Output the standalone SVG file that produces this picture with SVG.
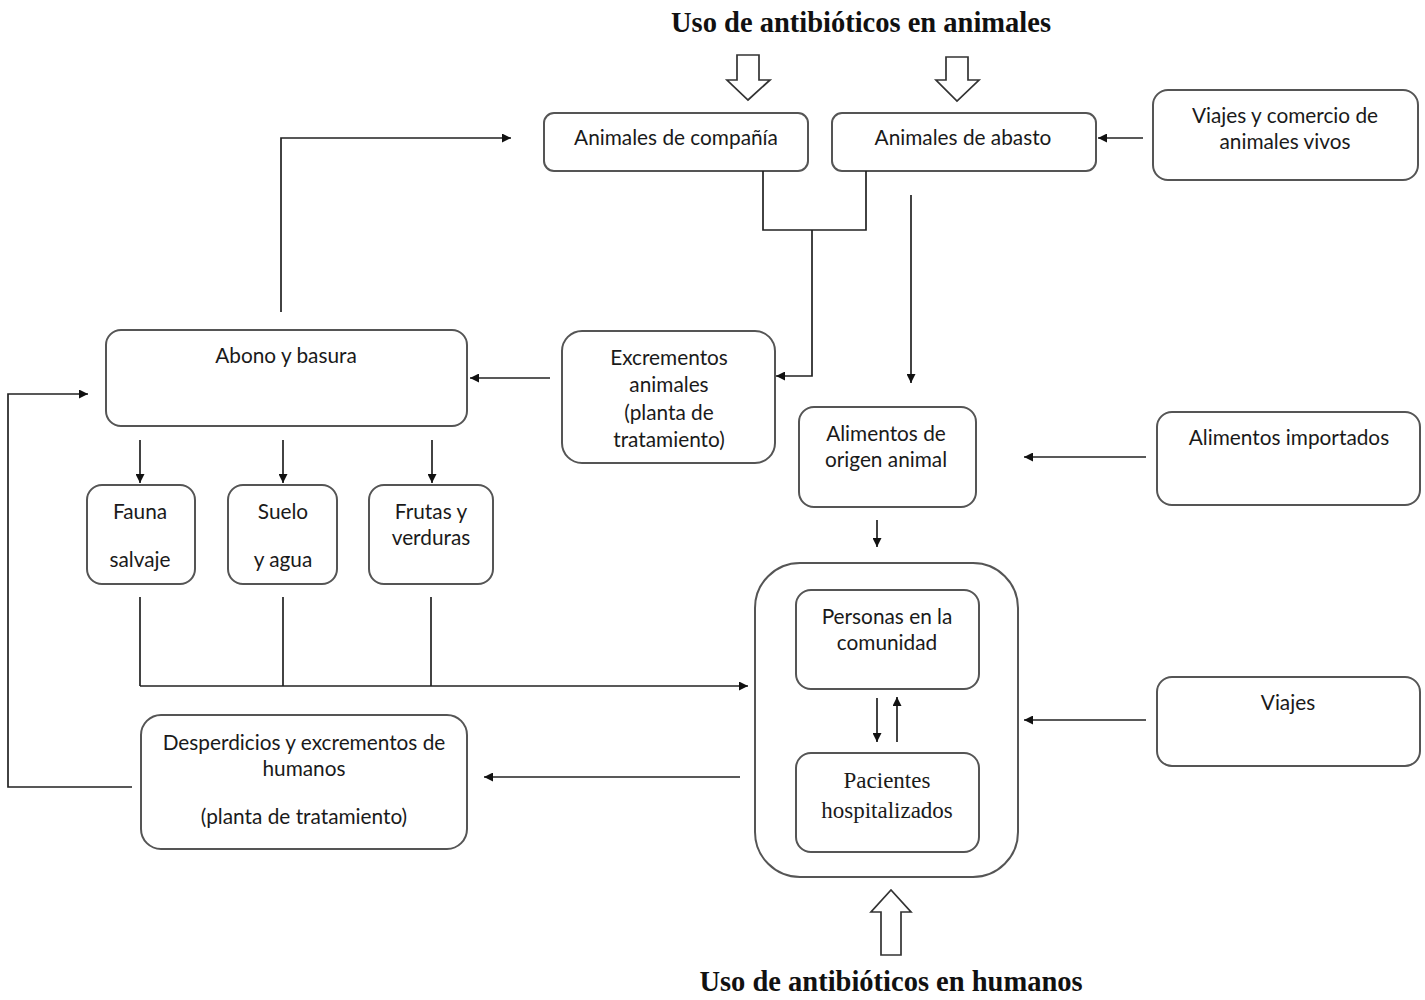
<svg xmlns="http://www.w3.org/2000/svg" width="1425" height="1000" viewBox="0 0 1425 1000">
  <style>
    .box { fill: #fff; stroke: #555; stroke-width: 2; }
    .lbl { font-family: "Lato", "Liberation Sans", sans-serif; font-size: 20.8px; fill: #1a1a1a; text-anchor: middle; }
    .ser { font-family: "Liberation Serif", serif; font-size: 23px; fill: #1a1a1a; text-anchor: middle; }
    .ttl { font-family: "Liberation Serif", serif; font-size: 28.5px; font-weight: bold; fill: #111; text-anchor: middle; }
    .ln { fill: none; stroke: #222; stroke-width: 1.7; }
    .arr { fill: none; stroke: #222; stroke-width: 1.7; marker-end: url(#ah); }
    .hollow { fill: #fff; stroke: #333; stroke-width: 1.7; }
  </style>
  <defs>
    <marker id="ah" viewBox="0 0 10 10" refX="10" refY="5" markerWidth="10" markerHeight="9" markerUnits="userSpaceOnUse" orient="auto">
      <path d="M0,0 L10,5 L0,10 z" fill="#111"/>
    </marker>
  </defs>
  <rect width="1425" height="1000" fill="#fff"/>

  <!-- titles -->
  <text class="ttl" x="861" y="32">Uso de antibióticos en animales</text>
  <text class="ttl" x="891" y="991">Uso de antibióticos en humanos</text>

  <g id="companion">
    <rect class="box" x="544" y="113" width="264" height="58" rx="10"/>
    <text class="lbl" x="676" y="145">Animales de compañía</text>
  </g>
  <g id="livestock">
    <rect class="box" x="832" y="113" width="264" height="58" rx="10"/>
    <text class="lbl" x="963" y="145">Animales de abasto</text>
  </g>
  <g id="trade">
    <rect class="box" x="1153" y="90" width="265" height="90" rx="15"/>
    <text class="lbl" x="1285" y="123">Viajes y comercio de</text>
    <text class="lbl" x="1285" y="149">animales vivos</text>
  </g>
  <g id="manure">
    <rect class="box" x="106" y="330" width="361" height="96" rx="15"/>
    <text class="lbl" x="286" y="363">Abono y basura</text>
  </g>
  <g id="animal-excreta">
    <rect class="box" x="562" y="331" width="213" height="132" rx="20"/>
    <text class="lbl" x="669" y="365">Excrementos</text>
    <text class="lbl" x="669" y="392">animales</text>
    <text class="lbl" x="669" y="420">(planta de</text>
    <text class="lbl" x="669" y="447">tratamiento)</text>
  </g>
  <g id="food-animal">
    <rect class="box" x="799" y="407" width="177" height="100" rx="15"/>
    <text class="lbl" x="886" y="441">Alimentos de</text>
    <text class="lbl" x="886" y="467">origen animal</text>
  </g>
  <g id="imported-food">
    <rect class="box" x="1157" y="412" width="263" height="93" rx="15"/>
    <text class="lbl" x="1289" y="445">Alimentos importados</text>
  </g>
  <g id="wildlife">
    <rect class="box" x="87" y="485" width="108" height="99" rx="15"/>
    <text class="lbl" x="140" y="519">Fauna</text>
    <text class="lbl" x="140" y="567">salvaje</text>
  </g>
  <g id="soil-water">
    <rect class="box" x="228" y="485" width="109" height="99" rx="15"/>
    <text class="lbl" x="283" y="519">Suelo</text>
    <text class="lbl" x="283" y="567">y agua</text>
  </g>
  <g id="produce">
    <rect class="box" x="369" y="485" width="124" height="99" rx="15"/>
    <text class="lbl" x="431" y="519">Frutas y</text>
    <text class="lbl" x="431" y="545">verduras</text>
  </g>
  <g id="humans">
    <rect class="box" x="755" y="563" width="263" height="314" rx="45"/>
  </g>
  <g id="community">
    <rect class="box" x="796" y="590" width="183" height="99" rx="15"/>
    <text class="lbl" x="887" y="624">Personas en la</text>
    <text class="lbl" x="887" y="650">comunidad</text>
  </g>
  <g id="patients">
    <rect class="box" x="796" y="753" width="183" height="99" rx="15"/>
    <text class="ser" x="887" y="788">Pacientes</text>
    <text class="ser" x="887" y="818">hospitalizados</text>
  </g>
  <g id="travel">
    <rect class="box" x="1157" y="677" width="263" height="89" rx="15"/>
    <text class="lbl" x="1288" y="710">Viajes</text>
  </g>
  <g id="human-waste">
    <rect class="box" x="141" y="715" width="326" height="134" rx="20"/>
    <text class="lbl" x="304" y="750">Desperdicios y excrementos de</text>
    <text class="lbl" x="304" y="776">humanos</text>
    <text class="lbl" x="304" y="824">(planta de tratamiento)</text>
  </g>

  <!-- connectors, drawn last so they sit on top of the grouping box -->
  <g id="connectors">
    <!-- hollow block arrows -->
    <path class="hollow" d="M737,55 H759 V80 H770 L748,100 L727,80 H737 Z"/>
    <path class="hollow" d="M946,57 H968 V80 H979 L957,101 L936,80 H946 Z"/>
    <path class="hollow" d="M881,955 V912 H871 L891,890 L911,912 H901 V955 Z"/>

    <path class="arr" d="M1143,138 H1098"/>
    <path class="ln" d="M763,171 V230 H866 V171"/>
    <path class="arr" d="M812,230 V376 H776"/>
    <path class="arr" d="M911,195 V383"/>
    <path class="arr" d="M550,378 H470"/>
    <path class="arr" d="M281,312 V138 H511"/>
    <path class="arr" d="M132,787 H8 V394 H88"/>
    <path class="arr" d="M140,440 V483"/>
    <path class="arr" d="M283,440 V483"/>
    <path class="arr" d="M432,440 V483"/>
    <path class="ln" d="M140,597 V686"/>
    <path class="ln" d="M283,597 V686"/>
    <path class="ln" d="M431,597 V686"/>
    <path class="arr" d="M140,686 H748"/>
    <path class="arr" d="M1146,457 H1024"/>
    <path class="arr" d="M877,520 V547"/>
    <path class="arr" d="M877,698 V742"/>
    <path class="arr" d="M897,742 V697"/>
    <path class="arr" d="M1146,720 H1024"/>
    <path class="arr" d="M740,777 H484"/>
  </g>
</svg>
